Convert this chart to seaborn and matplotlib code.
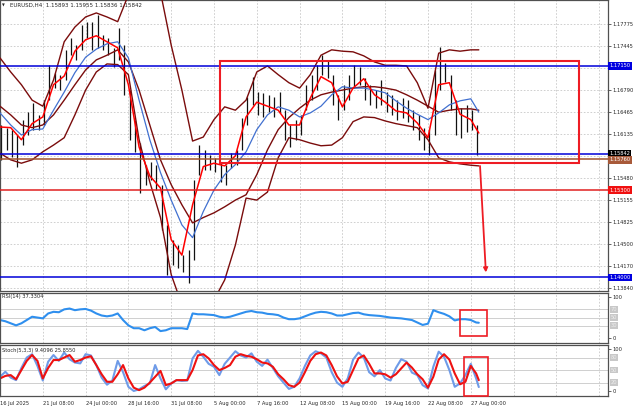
import matplotlib
matplotlib.use("Agg")
import matplotlib.pyplot as plt
from matplotlib.patches import Rectangle
import numpy as np
import seaborn as sns

sns.set_style("white")
plt.rcParams["font.family"] = ["DejaVu Sans"]

# EURUSD H4 - high / low, one sample per two bars
bar_hi = [1.1627, 1.1623, 1.1620, 1.1612, 1.1634, 1.1646, 1.1660, 1.1642, 1.1664, 1.1716,
          1.1704, 1.1701, 1.1739, 1.1757, 1.1746, 1.1776, 1.1781, 1.1781, 1.1791, 1.1761,
          1.1757, 1.1742, 1.1772, 1.1746, 1.1679, 1.1634, 1.1600, 1.1567, 1.1572, 1.1567,
          1.1538, 1.1478, 1.1456, 1.1448, 1.1433, 1.1441, 1.1545, 1.1597, 1.1590, 1.1582,
          1.1578, 1.1572, 1.1567, 1.1585, 1.1590, 1.1637, 1.1669, 1.1699, 1.1676, 1.1675,
          1.1672, 1.1669, 1.1676, 1.1649, 1.1627, 1.1634, 1.1642, 1.1687, 1.1701, 1.1716,
          1.1731, 1.1724, 1.1701, 1.1672, 1.1687, 1.1701, 1.1716, 1.1713, 1.1697, 1.1687,
          1.1679, 1.1694, 1.1676, 1.1672, 1.1664, 1.1667, 1.1664, 1.1649, 1.1642, 1.1623,
          1.1620, 1.1709, 1.1743, 1.1719, 1.1701, 1.1664, 1.1652, 1.1657, 1.1649, 1.1627]
bar_lo = [1.1575, 1.1590, 1.1579, 1.1564, 1.1597, 1.1612, 1.1620, 1.1620, 1.1627, 1.1664,
          1.1682, 1.1679, 1.1694, 1.1731, 1.1724, 1.1739, 1.1757, 1.1739, 1.1742, 1.1739,
          1.1731, 1.1713, 1.1724, 1.1672, 1.1605, 1.1587, 1.1526, 1.1538, 1.1545, 1.1530,
          1.1471, 1.1404, 1.1418, 1.1414, 1.1408, 1.1392, 1.1426, 1.1553, 1.1560, 1.1560,
          1.1557, 1.1542, 1.1538, 1.1563, 1.1567, 1.1590, 1.1627, 1.1657, 1.1642, 1.1639,
          1.1646, 1.1639, 1.1645, 1.1605, 1.1594, 1.1605, 1.1612, 1.1649, 1.1664, 1.1679,
          1.1701, 1.1697, 1.1657, 1.1634, 1.1649, 1.1664, 1.1682, 1.1687, 1.1664, 1.1657,
          1.1652, 1.1657, 1.1646, 1.1642, 1.1634, 1.1637, 1.1631, 1.1620, 1.1605, 1.1590,
          1.1582, 1.1612, 1.1679, 1.1691, 1.1649, 1.1612, 1.1608, 1.1616, 1.1620, 1.1582]
slot_x = np.arange(len(bar_hi)) * 2 + 0.5

# indicator lines on the price chart, one sample every 4 bars (+ last bar)
line_x = list(range(0, 180, 4)) + [179]
ma_fast = [1.1624, 1.1623, 1.1605, 1.1629, 1.1639, 1.1687, 1.1700, 1.1737, 1.1754, 1.1760,
           1.1751, 1.1742, 1.1687, 1.1594, 1.1551, 1.1533, 1.1456, 1.1433, 1.1508, 1.1565,
           1.1570, 1.1566, 1.1581, 1.1639, 1.1661, 1.1655, 1.1649, 1.1627, 1.1627, 1.1667,
           1.1699, 1.1690, 1.1654, 1.1682, 1.1696, 1.1672, 1.1661, 1.1648, 1.1645, 1.1630,
           1.1608, 1.1687, 1.1690, 1.1643, 1.1635, 1.1615]
ma_slow = [1.1645, 1.1627, 1.1612, 1.1620, 1.1621, 1.1649, 1.1676, 1.1705, 1.1728, 1.1740,
           1.1748, 1.1751, 1.1727, 1.1664, 1.1605, 1.1556, 1.1515, 1.1478, 1.1459, 1.1498,
           1.1530, 1.1553, 1.1568, 1.1587, 1.1620, 1.1642, 1.1654, 1.1649, 1.1639, 1.1645,
           1.1655, 1.1672, 1.1684, 1.1682, 1.1682, 1.1679, 1.1675, 1.1663, 1.1652, 1.1643,
           1.1635, 1.1645, 1.1657, 1.1663, 1.1666, 1.1646]
bb_up = [1.1727, 1.1706, 1.1687, 1.1664, 1.1655, 1.1694, 1.1751, 1.1773, 1.1788, 1.1794,
         1.1788, 1.1781, 1.1821, 1.1880, 1.1873, 1.1825, 1.1746, 1.1679, 1.1603, 1.1609,
         1.1635, 1.1654, 1.1649, 1.1664, 1.1706, 1.1715, 1.1702, 1.1690, 1.1682, 1.1702,
         1.1731, 1.1739, 1.1737, 1.1736, 1.1730, 1.1721, 1.1716, 1.1716, 1.1715, 1.1690,
         1.1652, 1.1734, 1.1739, 1.1737, 1.1739, 1.1739]
bb_mid = [1.1655, 1.1642, 1.1627, 1.1623, 1.1627, 1.1642, 1.1664, 1.1687, 1.1709, 1.1724,
          1.1731, 1.1739, 1.1721, 1.1679, 1.1627, 1.1575, 1.1538, 1.1508, 1.1481, 1.1489,
          1.1496, 1.1505, 1.1515, 1.1523, 1.1553, 1.1590, 1.1620, 1.1638, 1.1652, 1.1664,
          1.1672, 1.1676, 1.1679, 1.1682, 1.1684, 1.1684, 1.1682, 1.1679, 1.1672, 1.1664,
          1.1655, 1.1646, 1.1649, 1.1651, 1.1651, 1.1649]
bb_low = [1.1585, 1.1575, 1.1570, 1.1575, 1.1587, 1.1597, 1.1608, 1.1642, 1.1679, 1.1706,
          1.1718, 1.1717, 1.1702, 1.1605, 1.1542, 1.1489, 1.1404, 1.1359, 1.1337, 1.1339,
          1.1366, 1.1396, 1.1448, 1.1518, 1.1515, 1.1527, 1.1578, 1.1608, 1.1605, 1.1600,
          1.1596, 1.1597, 1.1608, 1.1632, 1.1639, 1.1638, 1.1633, 1.1629, 1.1626, 1.1623,
          1.1605, 1.1578, 1.1572, 1.1569, 1.1567, 1.1566]

# oscillators, one sample every 2 bars (+ last bar)
osc_x = list(range(0, 180, 2)) + [179]
rsi = [44, 41, 36, 31, 36, 44, 52, 50, 48, 60, 64, 63, 70, 72, 68, 70, 71, 67, 60, 55,
       53, 55, 60, 44, 31, 24, 24, 19, 24, 27, 17, 19, 24, 24, 24, 22, 60, 58, 58, 57,
       56, 52, 50, 52, 56, 60, 64, 66, 63, 62, 59, 58, 56, 50, 46, 46, 48, 53, 58, 62,
       64, 63, 60, 55, 55, 58, 61, 62, 58, 56, 55, 54, 52, 50, 49, 48, 46, 44, 38, 32,
       35, 68, 63, 59, 53, 43, 46, 46, 44, 38, 37.33]
stoch_k = [34, 46, 32, 26, 55, 80, 88, 60, 25, 70, 86, 72, 92, 76, 68, 66, 88, 85, 62, 32,
           15, 25, 72, 45, 10, 0, 4, 12, 18, 62, 30, 4, 18, 26, 24, 25, 78, 96, 82, 65,
           58, 38, 65, 80, 95, 85, 80, 90, 70, 60, 75, 55, 35, 20, 5, 10, 30, 60, 85, 95,
           90, 80, 45, 20, 10, 30, 75, 92, 80, 45, 35, 50, 30, 25, 55, 76, 70, 44, 38, 14,
           6, 58, 94, 82, 50, 10, 18, 38, 65, 30, 9.41]
stoch_d = [30, 36, 38, 28, 50, 72, 86, 72, 30, 55, 74, 74, 80, 86, 70, 74, 80, 83, 62, 40,
           22, 22, 40, 62, 30, 8, 2, 8, 20, 34, 48, 14, 18, 26, 26, 26, 50, 85, 88, 78,
           62, 50, 55, 62, 82, 88, 84, 82, 76, 68, 66, 58, 40, 28, 14, 10, 20, 45, 72, 88,
           92, 85, 62, 35, 18, 22, 50, 78, 85, 65, 42, 42, 40, 32, 40, 54, 68, 56, 40, 28,
           8, 34, 75, 88, 75, 42, 16, 22, 60, 42, 25.86]

price_ticks = [1.17775, 1.17445, 1.16790, 1.16465, 1.16135, 1.15480, 1.15155,
               1.14825, 1.14500, 1.14170, 1.13840]
grid_levels = [1.17775, 1.17445, 1.17120, 1.16790, 1.16465, 1.16135, 1.15810,
               1.15480, 1.15155, 1.14825, 1.14500, 1.14170, 1.13840]
date_ticks = [0, 16, 32, 48, 64, 80, 96, 112, 128, 144, 160, 176]
date_labels = ["16 Jul 2025", "21 Jul 08:00", "24 Jul 00:00", "28 Jul 16:00",
               "31 Jul 08:00", "5 Aug 00:00", "7 Aug 16:00", "12 Aug 08:00",
               "15 Aug 00:00", "19 Aug 16:00", "22 Aug 08:00", "27 Aug 00:00"]

# (price, colour) of the drawn horizontal levels
levels = [(1.1715, "#0000d8"), (1.1583, "#0000d8"), (1.1576, "#a0522d"),
          (1.1530, "#e02020"), (1.1400, "#0000d8")]
level_tags = [(1.1715, "1.17150", "#0000e0"), (1.1584, "1.15842", "#000000"),
              (1.1575, "1.15760", "#a85a3a"), (1.1530, "1.15300", "#f01010"),
              (1.1400, "1.14000", "#0000e0")]

band_col = "#7a0c0c"
grid_col = "#c8c8c8"
fs = 3.7

fig = plt.figure(figsize=(6.4, 4.11), dpi=100)
ax = fig.add_axes([0.0, 0.292, 0.95, 0.708])
ax_rsi = fig.add_axes([0.0, 0.1655, 0.95, 0.1217], sharex=ax)
ax_st = fig.add_axes([0.0, 0.0365, 0.95, 0.1241], sharex=ax)

for a in (ax, ax_rsi, ax_st):
    for b in range(16, 228, 16):
        a.axvline(b, color=grid_col, lw=0.6, ls=(0, (2, 2)), zorder=0)
    for s in a.spines.values():
        s.set_color("#505050")
        s.set_linewidth(0.9)
    a.yaxis.tick_right()
    a.tick_params(axis="y", labelsize=fs, length=2, width=0.5, pad=1.5)

# ---- price panel
for lv in grid_levels:
    ax.axhline(lv, color=grid_col, lw=0.6, ls=(0, (2, 2)), zorder=0)

ax.vlines(slot_x, bar_lo, bar_hi, color="#111111", lw=0.9, zorder=2)
for yv in (bb_up, bb_mid, bb_low):
    sns.lineplot(x=line_x, y=yv, ax=ax, color=band_col, lw=1.0,
                 estimator=None, sort=False, zorder=3)
sns.lineplot(x=line_x, y=ma_slow, ax=ax, color="#4170d0", lw=0.9,
             estimator=None, sort=False, zorder=4)
sns.lineplot(x=line_x, y=ma_fast, ax=ax, color="#ff0000", lw=1.1,
             estimator=None, sort=False, zorder=5)

for lv, col in levels:
    ax.axhline(lv, color=col, lw=1.1, zorder=6)

ax.add_patch(Rectangle((82.2, 1.1570), 134.2, 1.1722 - 1.1570, fill=False,
                       edgecolor="#ee1c24", lw=1.5, zorder=7))
ax.annotate("", xy=(181.7, 1.1403), xytext=(179.4, 1.1570),
            arrowprops=dict(arrowstyle="-|>", color="#ee1c24", lw=1.3,
                            mutation_scale=6), zorder=7)

ax.set_ylim(1.13795, 1.18133)
ax.set_xlim(0, 227.3)
ax.set_yticks(price_ticks)
ax.set_yticklabels([f"{v:.5f}" for v in price_ticks])
for lv, txt, col in level_tags:
    ax.text(1.002, lv, txt, transform=ax.get_yaxis_transform(), fontsize=fs,
            color="white", va="center", ha="left",
            bbox=dict(facecolor=col, edgecolor="none", pad=0.9))
ax.text(0.004, 0.988, "\u25bc", transform=ax.transAxes, fontsize=2.6, va="top")
ax.text(0.017, 0.992, "EURUSD,H4  1.15893 1.15955 1.15836 1.15842",
        transform=ax.transAxes, fontsize=4.0, va="top")

# ---- RSI panel
for lv in (70, 50, 30):
    ax_rsi.axhline(lv, color=grid_col, lw=0.6, zorder=0)
sns.lineplot(x=osc_x, y=rsi, ax=ax_rsi, color="#2f8fee", lw=1.5,
             estimator=None, sort=False)
ax_rsi.add_patch(Rectangle((172, 5), 10, 63, fill=False, edgecolor="#ee1c24",
                           lw=1.2, zorder=7))
ax_rsi.set_ylim(-12, 110)
ax_rsi.set_yticks([100, 0])
ax_rsi.set_yticklabels(["100", "0"])
ax_rsi.text(0.004, 0.92, "RSI(14) 37.3304", transform=ax_rsi.transAxes,
            fontsize=fs, va="center")

# ---- Stochastic panel
for lv in (80, 50, 20):
    ax_st.axhline(lv, color=grid_col, lw=0.6, zorder=0)
sns.lineplot(x=osc_x, y=stoch_k, ax=ax_st, color="#6f9be8", lw=1.5,
             estimator=None, sort=False)
sns.lineplot(x=osc_x, y=stoch_d, ax=ax_st, color="#ee1111", lw=1.5,
             estimator=None, sort=False)
ax_st.add_patch(Rectangle((173.5, -11), 9, 92, fill=False, edgecolor="#ee1c24",
                          lw=1.2, zorder=7, clip_on=False))
ax_st.set_ylim(-12, 110)
ax_st.set_yticks([100, 0])
ax_st.set_yticklabels(["100", "0"])
ax_st.text(0.004, 0.89, "Stoch(5,3,3) 9.4096 25.8550", transform=ax_st.transAxes,
           fontsize=fs, va="center")

for a, lvls in ((ax_rsi, (70, 50, 30)), (ax_st, (80, 50, 20))):
    for lv in lvls:
        a.text(1.004, lv, str(lv), transform=a.get_yaxis_transform(), fontsize=fs,
               color="#eeeeee", va="center", ha="left",
               bbox=dict(facecolor="#c8c8c8", edgecolor="none", pad=0.6))

for a in (ax, ax_rsi):
    a.tick_params(axis="x", labelbottom=False, length=0)
ax_st.set_xticks(date_ticks)
ax_st.set_xticklabels(date_labels)
ax_st.tick_params(axis="x", labelsize=fs, length=2, width=0.5, pad=1.5)
for lbl in ax_st.get_xticklabels():
    lbl.set_ha("left")

fig.savefig("out.png", dpi=100, facecolor="white")
